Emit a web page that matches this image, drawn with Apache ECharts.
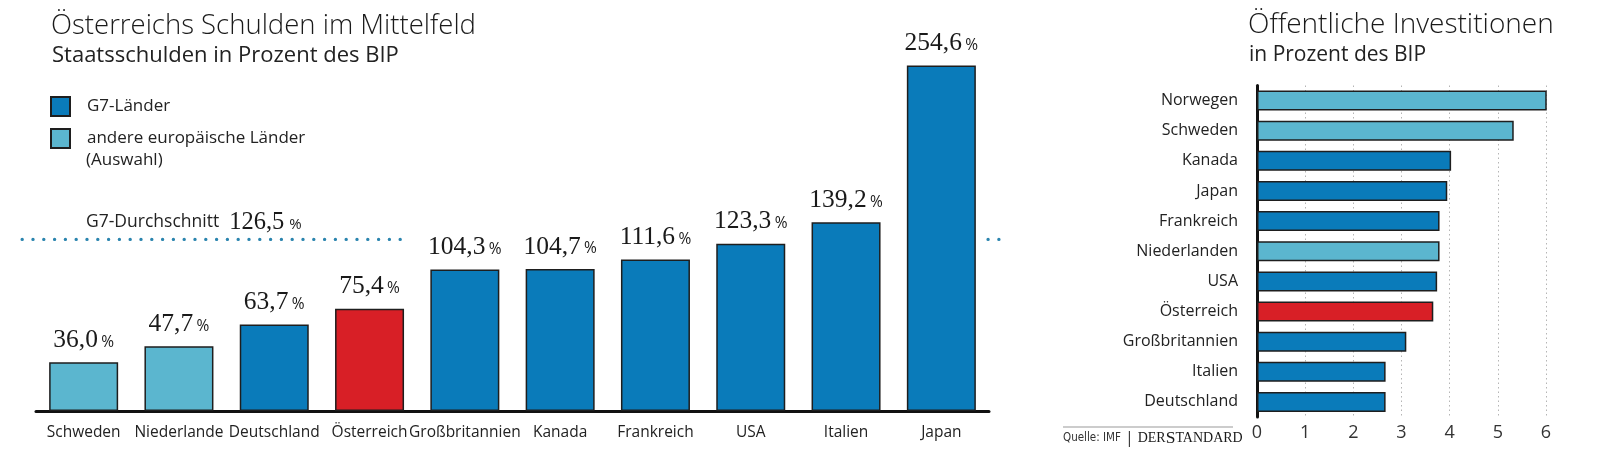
<!DOCTYPE html>
<html>
<head>
<meta charset="utf-8">
<script src="https://cdn.jsdelivr.net/npm/echarts@6/dist/echarts.min.js"></script>
<style>
html,body{margin:0;padding:0;background:#fff;}
#chart{width:1600px;height:451px;}
</style>
</head>
<body>
<div id="chart"></div>
<script>
// ---- Data: Staatsschulden in Prozent des BIP ----
const debtCategories = ['Schweden','Niederlande','Deutschland','Österreich','Großbritannien','Kanada','Frankreich','USA','Italien','Japan'];
const debtG7      = [null, null, 63.7, null, 104.3, 104.7, 111.6, 123.3, 139.2, 254.6];
const debtEurope  = [36.0, 47.7, null, null, null, null, null, null, null, null];
const debtAustria = [null, null, null, 75.4, null, null, null, null, null, null];
const g7Average = 126.5;

// ---- Data: Öffentliche Investitionen in Prozent des BIP ----
const invCategories = ['Norwegen','Schweden','Kanada','Japan','Frankreich','Niederlanden','USA','Österreich','Großbritannien','Italien','Deutschland'];
const invG7      = [null, null, 4.03, 3.95, 3.79, null, 3.74, null, 3.1, 2.67, 2.67];
const invEurope  = [6.05, 5.33, null, null, null, 3.79, null, null, null, null, null];
const invAustria = [null, null, null, null, null, null, null, 3.66, null, null, null];
const invTicks = [0, 1, 2, 3, 4, 5, 6];

const C_G7 = '#0a7bba';
const C_EU = '#5bb6cf';
const C_AT = '#d81f26';
const C_BORDER = '#1e1e1e';
const SANS = '"Open Sans", "Noto Sans", sans-serif';
const SERIF = '"Liberation Serif", "DejaVu Serif", serif';

function fmtPct(v) {
  return '{v|' + v.toFixed(1).replace('.', ',') + '} {p|%}';
}
const pctRich = {
  v: { fontFamily: SERIF, fontSize: 25.5, fontWeight: 'normal', color: '#1a1a1a' },
  p: { fontFamily: SANS, fontSize: 15.5, fontWeight: 'normal', color: '#1a1a1a', padding: [4, 0, 0, 0] }
};
const valueLabel = {
  show: true,
  position: 'top',
  distance: 9,
  formatter: p => fmtPct(p.value),
  rich: pctRich
};

const debtIdxAustria = debtCategories.indexOf('Österreich');
const avgLine = { color: '#2a84ae', width: 3.4, type: [0, 10.8], cap: 'round' };

const chart = echarts.init(document.getElementById('chart'), null, { renderer: 'canvas' });
const option = {
  animation: false,
  backgroundColor: '#ffffff',
  title: [
    { text: 'Österreichs Schulden im Mittelfeld', left: 51, top: 12, padding: 0,
      textStyle: { fontFamily: SANS, fontWeight: 300, fontSize: 27.5, color: '#1a1a1a' } },
    { text: 'Staatsschulden in Prozent des BIP', left: 52, top: 45, padding: 0,
      textStyle: { fontFamily: SANS, fontWeight: 400, fontSize: 22, color: '#222' } },
    { text: 'Öffentliche Investitionen', left: 1248, top: 11, padding: 0,
      textStyle: { fontFamily: SANS, fontWeight: 300, fontSize: 28, color: '#1a1a1a' } },
    { text: 'in Prozent des BIP', left: 1249, top: 45, padding: 0,
      textStyle: { fontFamily: SANS, fontWeight: 400, fontSize: 21, color: '#222' } },
    { text: '(Auswahl)', left: 86, top: 152, padding: 0,
      textStyle: { fontFamily: SANS, fontWeight: 400, fontSize: 17, color: '#222' } },
    { text: '{l|G7-Durchschnitt}  ' + fmtPct(g7Average), left: 86, top: 210, padding: 0,
      textStyle: { fontWeight: 'normal', rich: {
        l: { fontFamily: SANS, fontSize: 17.5, fontWeight: 'normal', color: '#222' },
        v: { fontFamily: SERIF, fontSize: 24.5, fontWeight: 'normal', color: '#1a1a1a' },
        p: { fontFamily: SANS, fontSize: 15, fontWeight: 'normal', color: '#1a1a1a', padding: [4, 0, 0, 0] }
      } } },
    { text: '{q|Quelle: IMF}{s||}{d|DER}{S|S}{d|TANDARD}', left: 1063, top: 429, padding: 0,
      textStyle: { fontWeight: 'normal', rich: {
        q: { fontFamily: '"Liberation Sans Narrow", "DejaVu Sans Condensed", sans-serif', fontSize: 11.5, fontWeight: 'normal', color: '#333' },
        s: { fontFamily: SANS, fontSize: 16, fontWeight: 'normal', color: '#333', padding: [0, 4, 0, 4] },
        d: { fontFamily: SERIF, fontSize: 14, fontWeight: 'normal', color: '#1a1a1a' },
        S: { fontFamily: SERIF, fontSize: 17.5, fontWeight: 'normal', color: '#1a1a1a' }
      } } }
  ],
  graphic: [
    { type: 'rect', shape: { x: 1063, y: 426.5, width: 170, height: 1 }, style: { fill: '#999' }, silent: true }
  ],
  legend: {
    data: ['G7-Länder', 'andere europäische Länder'],
    orient: 'vertical',
    left: 50, top: 96,
    padding: 0,
    itemWidth: 19, itemHeight: 19, itemGap: 11,
    icon: 'rect',
    selectedMode: false,
    textStyle: { fontFamily: SANS, fontSize: 17, color: '#222', padding: [0, 0, 0, 12] }
  },
  grid: [
    { left: 36, width: 953, top: 4, height: 407 },
    { left: 1257, width: 289, top: 85.5, height: 331.5 },
    { left: 22, width: 978, top: 4, height: 407 }
  ],
  xAxis: [
    { type: 'category', gridIndex: 0, data: debtCategories,
      axisLine: { lineStyle: { color: '#111', width: 3 } },
      axisTick: { show: false },
      axisLabel: { fontFamily: SANS, fontSize: 15.5, color: '#222', margin: 14, interval: 0 } },
    { type: 'value', gridIndex: 2, min: -0.647, max: 9.615, show: false },
    { type: 'value', gridIndex: 1, min: 0, max: 6, interval: 1,
      axisLine: { show: false }, axisTick: { show: false },
      splitLine: { show: true, lineStyle: { color: '#b5b5b5', type: [1.5, 3], width: 1 } },
      axisLabel: { fontFamily: SANS, fontSize: 18, color: '#333', margin: 7,
        formatter: v => invTicks.includes(v) ? String(v) : '' } }
  ],
  yAxis: [
    { type: 'value', gridIndex: 0, min: 0, max: 300, show: false },
    { type: 'category', gridIndex: 1, data: invCategories, inverse: true,
      axisLine: { lineStyle: { color: '#111', width: 3 } },
      axisTick: { show: false },
      axisLabel: { fontFamily: SANS, fontSize: 16, color: '#222', margin: 19, interval: 0 } },
    { type: 'value', gridIndex: 2, min: 0, max: 300, show: false }
  ],
  series: [
    { name: 'G7-Länder', type: 'bar', xAxisIndex: 0, yAxisIndex: 0, data: debtG7,
      barWidth: 69, barGap: '-100%',
      itemStyle: { color: C_G7, borderColor: C_BORDER, borderWidth: 1.5 },
      label: valueLabel },
    { name: 'andere europäische Länder', type: 'bar', xAxisIndex: 0, yAxisIndex: 0, data: debtEurope,
      barWidth: 69, barGap: '-100%',
      itemStyle: { color: C_EU, borderColor: C_BORDER, borderWidth: 1.5 },
      label: valueLabel },
    { name: 'Österreich', type: 'bar', xAxisIndex: 0, yAxisIndex: 0, data: debtAustria,
      barWidth: 69, barGap: '-100%',
      itemStyle: { color: C_AT, borderColor: C_BORDER, borderWidth: 1.5 },
      label: valueLabel },
    { name: 'avgLeft', type: 'line', xAxisIndex: 1, yAxisIndex: 2, silent: true, clip: false,
      symbol: 'none', z: 1,
      data: [[-0.645, g7Average], [debtIdxAustria + 0.39, g7Average]],
      lineStyle: avgLine },
    { name: 'avgRight', type: 'line', xAxisIndex: 1, yAxisIndex: 2, silent: true, clip: false,
      symbol: 'none', z: 1,
      data: [[9.49, g7Average], [9.615, g7Average]],
      lineStyle: avgLine },
    { name: 'invG7', type: 'bar', xAxisIndex: 2, yAxisIndex: 1, data: invG7,
      barWidth: 20, barGap: '-100%',
      itemStyle: { color: C_G7, borderColor: C_BORDER, borderWidth: 1.5 } },
    { name: 'invEU', type: 'bar', xAxisIndex: 2, yAxisIndex: 1, data: invEurope,
      barWidth: 20, barGap: '-100%',
      itemStyle: { color: C_EU, borderColor: C_BORDER, borderWidth: 1.5 } },
    { name: 'invAT', type: 'bar', xAxisIndex: 2, yAxisIndex: 1, data: invAustria,
      barWidth: 20, barGap: '-100%',
      itemStyle: { color: C_AT, borderColor: C_BORDER, borderWidth: 1.5 } }
  ]
};
chart.setOption(option);
</script>
</body>
</html>
